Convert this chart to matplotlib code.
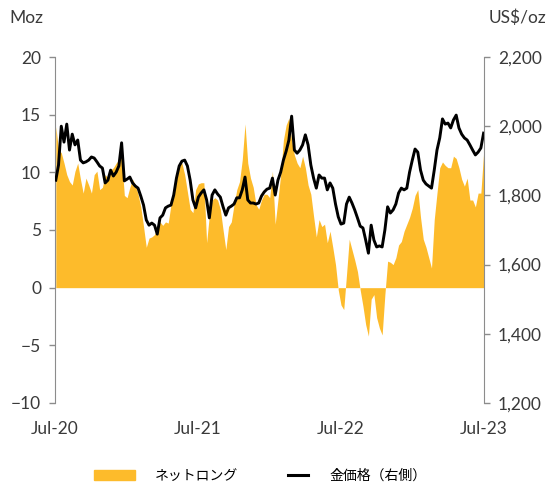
import matplotlib
matplotlib.use("Agg")
import matplotlib.pyplot as plt
from matplotlib.patches import Rectangle
from matplotlib.lines import Line2D
import pandas as pd

plt.rcParams['font.family'] = ['Lato', 'Noto Sans CJK JP', 'DejaVu Sans']

# 週次データ (2020年7月〜2023年6月)
dates = pd.date_range('2020-07-03', periods=157, freq='7D')

# ネットロング (Moz)
net_long = [
    13.96, 11.97, 11.7, 10.8, 9.8, 9.2, 8.9, 10.1, 10.8, 9.4,
    8.2, 9.5, 8.9, 8.2, 9.8, 10.1, 8.5, 8.7, 9.8, 9.5,
    10.2, 10.4, 10.8, 11.1, 11.3, 8.0, 7.8, 8.7, 9.4, 8.9,
    8.1, 7.0, 5.3, 3.5, 4.3, 4.4, 4.6, 5.2, 5.7, 5.4,
    5.7, 5.6, 7.2, 8.7, 9.5, 10.7, 10.8, 9.8, 8.3, 6.8,
    6.5, 8.5, 9.0, 9.1, 9.1, 3.9, 6.3, 7.6, 7.8, 7.6,
    6.8, 5.0, 3.3, 5.3, 5.7, 7.2, 8.5, 9.2, 11.1, 14.2,
    10.8, 9.5, 8.7, 7.2, 6.8, 7.6, 8.1, 8.1, 7.8, 10.1,
    5.5, 7.6, 9.8, 12.8, 14.1, 14.7, 12.7, 11.5, 10.8, 10.4,
    11.4, 10.4, 8.9, 8.1, 6.2, 4.4, 5.9, 5.3, 5.5, 3.9,
    4.9, 3.5, 2.0, -0.2, -1.5, -1.9, 1.1, 4.2, 3.3, 2.4,
    1.4, -0.2, -1.6, -3.2, -4.2, -1.0, -0.6, -2.6, -3.5, -4.1,
    -0.6, 2.3, 2.2, 2.0, 2.6, 3.7, 4.0, 4.9, 5.5, 6.1,
    6.9, 8.0, 8.5, 6.1, 4.2, 3.5, 2.6, 1.7, 5.9, 8.2,
    10.4, 10.9, 10.6, 10.4, 10.4, 11.4, 11.2, 10.4, 9.4, 8.8,
    9.5, 7.6, 7.6, 7.0, 8.2, 8.2, 11.7,
]

# 金価格 (US$/oz)
gold_price = [
    1844, 1888, 2000, 1954, 2006, 1931, 1977, 1946, 1960, 1902,
    1894, 1897, 1902, 1911, 1908, 1897, 1885, 1879, 1836, 1844,
    1873, 1856, 1867, 1885, 1952, 1842, 1847, 1853, 1836, 1827,
    1821, 1798, 1772, 1729, 1714, 1720, 1714, 1688, 1735, 1743,
    1764, 1769, 1772, 1801, 1850, 1885, 1899, 1902, 1885, 1844,
    1787, 1764, 1795, 1807, 1816, 1787, 1735, 1801, 1816, 1804,
    1795, 1767, 1743, 1764, 1769, 1775, 1793, 1793, 1816, 1853,
    1787, 1778, 1778, 1775, 1778, 1798, 1810, 1818, 1821, 1850,
    1801, 1844, 1867, 1902, 1928, 1960, 2029, 1931, 1922, 1931,
    1946, 1975, 1946, 1888, 1850, 1821, 1859, 1850, 1850, 1816,
    1836, 1821, 1775, 1738, 1717, 1720, 1775, 1795, 1778, 1758,
    1735, 1711, 1706, 1671, 1633, 1714, 1671, 1651, 1654, 1651,
    1700, 1767, 1749, 1758, 1775, 1807, 1821, 1816, 1821, 1867,
    1902, 1934, 1925, 1873, 1844, 1833, 1827, 1821, 1873, 1931,
    1966, 2021, 2006, 2009, 1995, 2018, 2032, 1995, 1977, 1966,
    1960, 1946, 1931, 1917, 1925, 1937, 1980,
]

tick_dates = pd.to_datetime(['2020-07-01', '2021-07-01', '2022-07-01', '2023-07-01'])
tick_labels = ['Jul-20', 'Jul-21', 'Jul-22', 'Jul-23']

fill_color = '#FDBB2B'
text_color = '#3A3A3A'
spine_color = '#8C8C8C'

fig = plt.figure(figsize=(5.47, 4.88), dpi=100)
ax = fig.add_axes([55 / 547, 1 - 403 / 488, 429 / 547, 346 / 488])
ax2 = ax.twinx()

ax.fill_between(dates, net_long, 0, color=fill_color, linewidth=0)
ax2.plot(dates, gold_price, color='black', linewidth=2.1)

ax.set_ylim(-10, 20)
ax.set_yticks([-10, -5, 0, 5, 10, 15, 20])
ax2.set_ylim(1200, 2200)
ax2.set_yticks([1200, 1400, 1600, 1800, 2000, 2200])
ax2.set_yticklabels(['1,200', '1,400', '1,600', '1,800', '2,000', '2,200'])

ax.set_xlim(tick_dates[0], tick_dates[-1])
ax.set_xticks(tick_dates)
ax.set_xticklabels(tick_labels)

for a in (ax, ax2):
    for s in ('top', 'bottom'):
        a.spines[s].set_visible(False)
    a.spines['left'].set_color(spine_color)
    a.spines['right'].set_color(spine_color)
    a.tick_params(axis='y', colors=text_color, labelsize=12.5, length=4,
                  width=1, color=spine_color, pad=6)
    a.tick_params(axis='x', colors=text_color, labelsize=12.5, length=0, pad=13)
ax.spines['right'].set_visible(False)
ax2.spines['left'].set_visible(False)

fig.text(9 / 547, 1 - 18 / 488, 'Moz', fontsize=12.5, color=text_color, va='center')
fig.text(546 / 547, 1 - 18 / 488, 'US$/oz', fontsize=12.5, color=text_color,
         va='center', ha='right')

# 凡例
fig.patches.append(Rectangle((94 / 547, 1 - 480 / 488), 41 / 547, 10 / 488,
                             transform=fig.transFigure, color=fill_color))
fig.text(155 / 547, 1 - 476 / 488, 'ネットロング', fontsize=10, color='black',
         va='center', family=['Noto Sans CJK JP'])
fig.lines.append(Line2D([288 / 547, 308 / 547], [1 - 475 / 488, 1 - 475 / 488],
                        transform=fig.transFigure, color='black', linewidth=2.2))
fig.text(330 / 547, 1 - 476 / 488, '金価格（右側）', fontsize=10, color='black',
         va='center', family=['Noto Sans CJK JP'])

fig.savefig('out.png', dpi=100)
